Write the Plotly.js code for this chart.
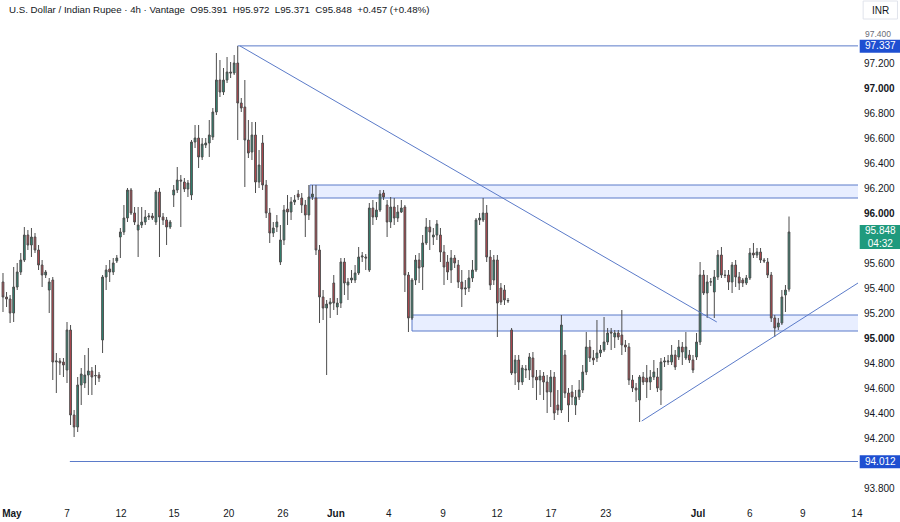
<!DOCTYPE html>
<html>
<head>
<meta charset="utf-8">
<script src="https://cdn.plot.ly/plotly-3.0.1.min.js"></script>
<style>html,body{margin:0;padding:0;background:#fff;}#chart{width:900px;height:522px;}</style>
</head>
<body>
<div id="chart"></div>
<script>
// ---- OHLC data (4h candles, USD/INR) ----
var openP = [95.448,95.328,95.312,95.200,95.408,95.528,95.624,95.824,95.744,95.808,95.704,95.584,95.504,95.384,95.464,94.808,94.816,94.808,94.744,95.064,94.384,94.288,94.624,94.640,94.704,94.736,94.696,94.704,94.984,95.488,95.552,95.528,95.616,95.808,95.848,95.960,96.184,96.000,95.864,95.904,95.928,95.968,95.976,95.928,96.168,95.968,95.944,95.888,96.144,96.184,96.264,96.248,96.192,96.144,96.568,96.600,96.448,96.544,96.560,96.608,96.808,97.064,96.968,97.064,97.128,97.120,97.200,96.880,96.848,96.584,96.488,96.624,96.248,96.560,96.224,96.000,95.840,95.888,95.608,95.784,96.032,96.008,96.088,96.152,96.120,96.064,95.984,96.128,96.120,95.704,95.328,95.240,95.272,95.440,95.248,95.280,95.608,95.424,95.464,95.464,95.520,95.648,95.648,95.544,96.040,95.968,96.024,96.160,96.064,95.928,96.048,95.960,96.008,96.048,95.504,95.160,95.464,95.624,95.568,95.760,95.888,95.808,95.824,95.824,95.688,95.608,95.544,95.640,95.584,95.448,95.392,95.400,95.480,95.544,95.944,95.944,96.000,95.648,95.464,95.624,95.400,95.384,95.296,95.064,94.720,94.824,94.648,94.744,94.744,94.840,94.688,94.664,94.696,94.648,94.568,94.688,94.464,94.424,94.864,94.560,94.568,94.464,94.528,94.584,94.728,94.928,94.840,94.840,94.880,94.904,94.968,95.048,95.008,95.040,95.024,94.944,94.928,94.664,94.600,94.504,94.688,94.680,94.648,94.688,94.688,94.584,94.808,94.808,94.808,94.864,94.848,94.928,94.840,94.864,94.824,94.848,94.968,95.504,95.360,95.448,95.368,95.488,95.664,95.504,95.504,95.448,95.584,95.488,95.464,95.440,95.480,95.680,95.664,95.688,95.624,95.608,95.504,95.160,95.088,95.120,95.344,95.391];
var highP = [95.520,95.368,95.344,95.568,95.600,95.680,95.888,95.864,95.880,95.840,95.744,95.624,95.544,95.480,95.488,94.880,94.840,94.840,95.128,95.104,94.424,94.688,94.760,94.864,94.920,94.768,94.784,94.728,95.504,95.584,95.624,95.640,95.664,95.880,96.064,96.200,96.200,96.048,96.048,96.048,96.024,96.000,96.000,96.184,96.200,96.000,95.968,95.944,96.224,96.368,96.304,96.280,96.264,96.584,96.704,96.704,96.600,96.600,96.744,96.840,97.280,97.224,97.160,97.248,97.208,97.264,97.337,96.920,97.064,96.744,96.728,96.728,96.504,96.624,96.264,96.040,95.928,95.984,95.904,96.064,96.144,96.128,96.144,96.184,96.160,96.104,96.224,96.224,96.224,95.744,95.384,95.304,95.320,95.504,95.320,95.640,95.640,95.480,95.544,95.584,95.728,95.688,95.672,96.080,96.104,96.088,96.184,96.184,96.104,96.128,96.120,96.064,96.104,96.064,95.528,95.480,95.664,95.680,95.824,95.960,95.944,95.880,95.944,95.880,95.744,95.664,95.704,95.664,95.624,95.544,95.464,95.544,95.624,95.960,96.000,96.120,96.064,95.704,95.664,95.664,95.440,95.424,95.320,95.080,94.864,94.864,94.784,94.784,94.880,94.888,94.744,94.744,94.728,94.704,94.744,94.728,94.584,95.184,94.904,94.600,94.624,94.584,94.664,94.784,95.048,94.984,94.904,95.144,94.944,95.168,95.080,95.080,95.064,95.064,95.224,94.984,94.960,94.704,94.640,94.704,94.728,94.784,94.744,94.824,94.760,94.840,94.848,94.864,94.944,94.904,94.984,94.968,95.048,94.904,94.864,95.040,95.608,95.544,95.504,95.480,95.544,95.704,95.728,95.544,95.544,95.608,95.624,95.528,95.480,95.504,95.720,95.760,95.720,95.720,95.640,95.640,95.528,95.184,95.160,95.384,95.424,95.972];
var lowP = [95.208,95.248,95.120,95.128,95.384,95.504,95.608,95.704,95.648,95.680,95.544,95.408,95.480,95.200,94.664,94.560,94.704,94.688,94.640,94.304,94.208,94.248,94.464,94.600,94.544,94.544,94.624,94.648,94.880,95.384,95.448,95.504,95.600,95.640,95.824,95.928,95.984,95.904,95.648,95.880,95.904,95.944,95.944,95.904,95.648,95.904,95.744,95.872,96.048,96.160,95.888,96.168,96.128,96.104,96.520,96.360,96.424,96.520,96.448,96.584,96.784,96.928,96.944,97.040,97.080,97.104,96.584,96.808,96.208,96.440,96.424,96.160,96.200,96.184,95.960,95.760,95.808,95.848,95.584,95.744,95.904,95.944,96.064,96.104,96.000,95.808,95.944,96.104,95.664,95.120,95.144,94.704,95.160,95.224,95.184,95.240,95.344,95.304,95.440,95.440,95.504,95.608,95.544,95.528,95.904,95.944,96.008,96.104,95.808,95.880,95.904,95.928,96.000,95.368,95.048,95.144,95.424,95.440,95.384,95.744,95.704,95.744,95.784,95.608,95.424,95.464,95.440,95.560,95.400,95.248,95.344,95.368,95.448,95.528,95.904,95.928,95.608,95.384,95.424,95.008,95.264,95.264,95.280,94.704,94.624,94.584,94.624,94.680,94.664,94.600,94.504,94.544,94.504,94.400,94.448,94.344,94.384,94.400,94.520,94.328,94.464,94.384,94.504,94.560,94.704,94.808,94.784,94.808,94.848,94.888,94.944,94.904,94.920,94.984,94.864,94.888,94.624,94.568,94.488,94.328,94.624,94.520,94.584,94.664,94.568,94.464,94.768,94.784,94.784,94.744,94.824,94.784,94.824,94.800,94.720,94.824,94.944,95.344,95.160,95.416,95.160,95.464,95.480,95.480,95.384,95.360,95.408,95.384,95.408,95.424,95.464,95.640,95.640,95.600,95.600,95.480,95.128,95.008,95.064,95.104,95.208,95.371];
var closeP = [95.328,95.312,95.200,95.408,95.528,95.624,95.824,95.744,95.808,95.704,95.584,95.504,95.528,95.448,94.808,94.816,94.800,94.784,95.064,94.384,94.288,94.624,94.712,94.704,94.736,94.688,94.700,94.680,95.488,95.544,95.528,95.600,95.640,95.848,95.960,96.184,96.000,95.928,95.904,95.928,95.968,95.976,95.960,96.168,95.968,95.944,95.888,95.928,96.184,96.264,96.256,96.192,96.240,96.568,96.600,96.448,96.552,96.560,96.624,96.808,97.064,96.968,97.064,97.128,97.120,97.200,96.880,96.840,96.584,96.480,96.624,96.248,96.384,96.224,96.000,95.840,95.880,95.928,95.784,96.024,96.008,96.088,96.104,96.128,96.064,95.984,96.128,96.152,95.704,95.328,95.240,95.272,95.288,95.280,95.280,95.608,95.440,95.448,95.480,95.520,95.648,95.656,95.640,96.040,95.968,96.024,96.152,96.128,95.928,96.048,95.960,96.008,96.040,95.504,95.160,95.464,95.624,95.560,95.760,95.888,95.848,95.824,95.912,95.688,95.568,95.528,95.640,95.600,95.448,95.392,95.400,95.480,95.544,95.944,95.960,96.000,95.648,95.424,95.624,95.280,95.288,95.304,95.300,94.720,94.824,94.648,94.760,94.750,94.848,94.688,94.664,94.696,94.648,94.568,94.688,94.400,94.424,95.104,94.560,94.464,94.528,94.528,94.584,94.728,94.928,94.840,94.824,94.880,94.904,94.968,95.040,95.040,95.040,95.008,94.944,94.928,94.664,94.600,94.584,94.688,94.648,94.648,94.688,94.728,94.600,94.808,94.816,94.816,94.864,94.768,94.928,94.888,94.928,94.824,94.744,94.968,95.504,95.360,95.448,95.450,95.488,95.664,95.504,95.500,95.448,95.584,95.488,95.440,95.440,95.480,95.680,95.664,95.688,95.624,95.616,95.504,95.160,95.080,95.120,95.328,95.384,95.848];

// ---- axis labels ----
var dateTickIdx = [2.5, 18.0, 33.2, 48.1, 63.5, 78.7, 93.6, 108.5, 123.7, 138.9, 154.1, 169.5, 195.4, 210.0, 224.9, 240.1];
var dateTickText = ['<b>May</b>','7','12','15','20','26','<b>Jun</b>','4','9','12','17','23','<b>Jul</b>','6','9','14'];
// price-scale ticks (95.800 and 94.000 sit under the price labels in the original)
var priceTicks = [93.8,94.2,94.4,94.6,94.8,95.0,95.2,95.4,95.6,96.0,96.2,96.4,96.6,96.8,97.0,97.2];
// top tick, half hidden behind the 97.337 label in the original
var topTick = 97.4;

// ---- drawings (index, price) ----
var hLevels = [97.337, 94.012];
var hLevelStart = [66, 18.8];
var zoneTop = [96.224, 95.184];
var zoneBottom = [96.120, 95.056];
var zoneStart = [86.3, 115.0];
var downTrend = {x: [66.6, 200.7], y: [97.337, 95.128]};
var upTrend = {x: [179.6, 240.4], y: [94.336, 95.440]};
var lastClose = 95.848;
var countdown = '04:32';

var xIdx = openP.map(function(_, i){ return i; });
var xMax = 240.4, xMin = -0.84;
var yMin = 93.704, yMax = 97.704;

var FONT = 'Liberation Sans, Arial, sans-serif';
var lineBlue = '#5b7bc9';

var trace = {
  type: 'candlestick',
  x: xIdx, open: openP, high: highP, low: lowP, close: closeP,
  increasing: {fillcolor: '#2a8c76', line: {color: '#4d4d4d', width: 1}},
  decreasing: {fillcolor: '#c5464f', line: {color: '#4d4d4d', width: 1}},
  whiskerwidth: 0,
  hoverinfo: 'none'
};

var shapes = [];
for (var k = 0; k < zoneTop.length; k++) {
  shapes.push({type: 'rect', xref: 'x', yref: 'y', x0: zoneStart[k], x1: xMax + 5, y0: zoneBottom[k], y1: zoneTop[k],
    fillcolor: 'rgba(41,98,255,0.11)', line: {color: lineBlue, width: 1}, layer: 'below'});
}
for (var k = 0; k < hLevels.length; k++) {
  shapes.push({type: 'line', xref: 'x', yref: 'y', x0: hLevelStart[k], x1: xMax + 5, y0: hLevels[k], y1: hLevels[k], line: {color: lineBlue, width: 1}});
}
shapes.push({type: 'line', xref: 'x', yref: 'y', x0: downTrend.x[0], x1: downTrend.x[1], y0: downTrend.y[0], y1: downTrend.y[1], line: {color: lineBlue, width: 1}});
shapes.push({type: 'line', xref: 'x', yref: 'y', x0: upTrend.x[0], x1: upTrend.x[1], y0: upTrend.y[0], y1: upTrend.y[1], line: {color: lineBlue, width: 1}});
// price-scale labels
shapes.push({type: 'rect', xref: 'paper', yref: 'y', x0: 1.002, x1: 1.049, y0: lastClose - 0.136, y1: lastClose + 0.056, fillcolor: '#1f9a7d', line: {width: 0}});
for (var k = 0; k < hLevels.length; k++) {
  shapes.push({type: 'rect', xref: 'paper', yref: 'y', x0: 1.002, x1: 1.049, y0: hLevels[k] - 0.054, y1: hLevels[k] + 0.050, fillcolor: '#1e4fd1', line: {width: 0}});
}
shapes.push({type: 'rect', xref: 'paper', yref: 'paper', x0: 1.006, x1: 1.046, y0: 0.962, y1: 0.998, fillcolor: '#ffffff', line: {color: '#e0e3eb', width: 1}});

var annotations = [
  {xref: 'paper', yref: 'paper', x: 0.008, y: 0.982, xanchor: 'left', yanchor: 'middle', showarrow: false,
   text: 'U.S. Dollar / Indian Rupee · 4h · Vantage  O95.391  H95.972  L95.371  C95.848  +0.457 (+0.48%)',
   font: {family: FONT, size: 9.7, color: '#131722'}},
  {xref: 'paper', yref: 'y', x: 1.026, y: lastClose - 0.040, xanchor: 'center', yanchor: 'middle', showarrow: false,
   text: lastClose.toFixed(3) + '<br>' + countdown, font: {family: FONT, size: 10, color: '#ffffff'}},
  {xref: 'paper', yref: 'paper', x: 1.026, y: 0.98, xanchor: 'center', yanchor: 'middle', showarrow: false,
   text: 'INR', font: {family: FONT, size: 10, color: '#131722'}},
  {xref: 'paper', yref: 'y', x: 1.006, y: topTick + 0.036, xanchor: 'left', yanchor: 'middle', showarrow: false,
   text: topTick.toFixed(3), font: {family: FONT, size: 8.5, color: '#6a6d78'}}
];
for (var k = 0; k < hLevels.length; k++) {
  annotations.push({xref: 'paper', yref: 'y', x: 1.026, y: hLevels[k], xanchor: 'center', yanchor: 'middle', showarrow: false,
    text: hLevels[k].toFixed(3), font: {family: FONT, size: 10, color: '#ffffff'}});
}

var layout = {
  width: 900, height: 522,
  margin: {l: 0, r: 42, t: 0, b: 22},
  paper_bgcolor: '#ffffff', plot_bgcolor: '#ffffff',
  showlegend: false,
  xaxis: {range: [xMin, xMax], tickvals: dateTickIdx, ticktext: dateTickText, showgrid: false, zeroline: false,
    showline: false, ticks: '', ticklabelstandoff: 6, rangeslider: {visible: false},
    tickfont: {family: FONT, size: 10, color: '#131722'}, fixedrange: true},
  yaxis: {range: [yMin, yMax], side: 'right', tickvals: priceTicks,
    ticktext: priceTicks.map(function(v){ var s = v.toFixed(3); return Math.abs(v - Math.round(v)) < 1e-9 ? '<b>' + s + '</b>' : s; }),
    showgrid: false, zeroline: false, showline: false, ticks: '', ticklabelstandoff: 5,
    tickfont: {family: FONT, size: 10, color: '#131722'}, fixedrange: true},
  shapes: shapes,
  annotations: annotations
};

Plotly.newPlot('chart', [trace], layout, {displayModeBar: false, staticPlot: true});
</script>
</body>
</html>
